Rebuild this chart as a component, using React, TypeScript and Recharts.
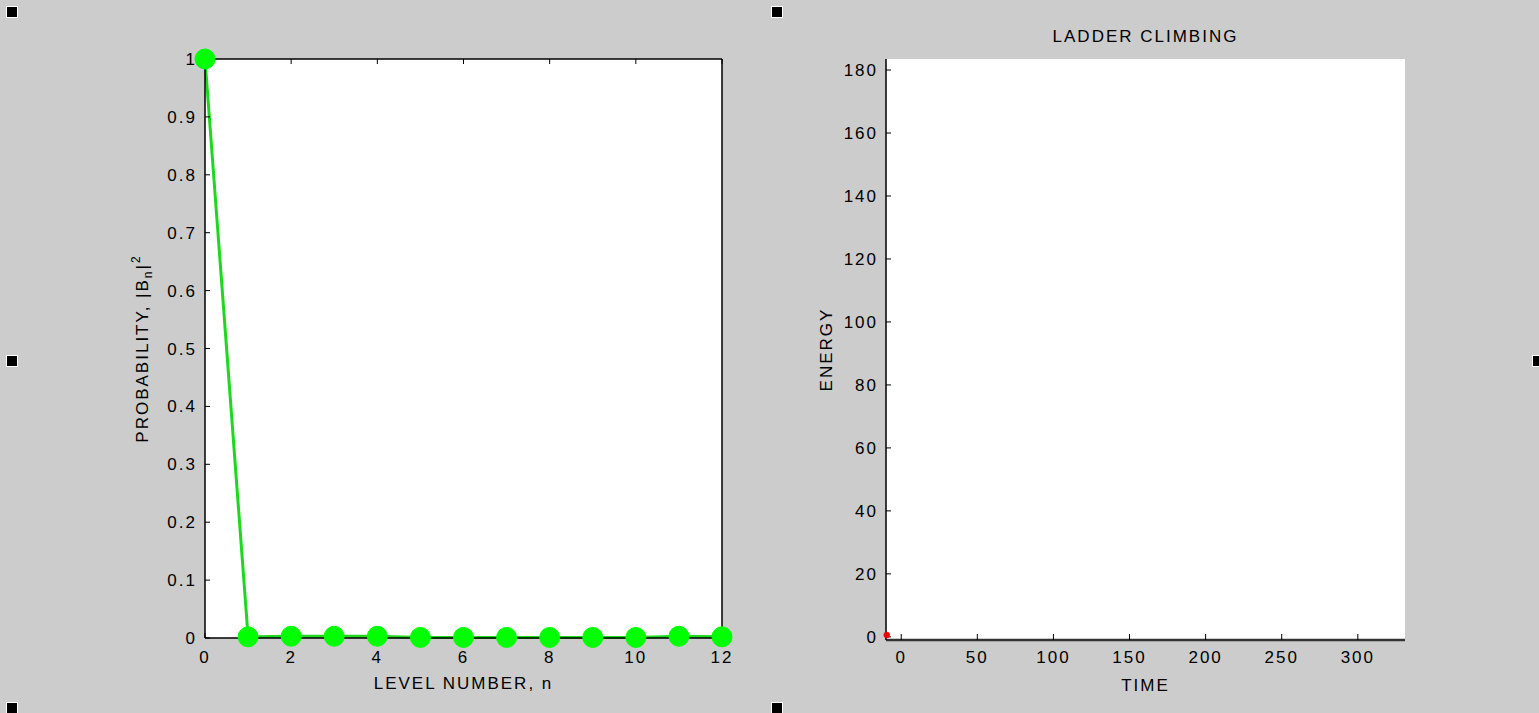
import { LineChart, Line, XAxis, YAxis, CartesianGrid } from 'recharts';

// left panel: occupation probability of each level
const levels = [0, 1, 2, 3, 4, 5, 6, 7, 8, 9, 10, 11, 12];
const probability = [1, 0.002, 0.003, 0.003, 0.003, 0.001, 0.001, 0.001, 0.001, 0.001, 0.001, 0.003, 0.002];
const levelTicks = [0, 2, 4, 6, 8, 10, 12];
const probTicks = [0, 0.1, 0.2, 0.3, 0.4, 0.5, 0.6, 0.7, 0.8, 0.9, 1];

// right panel: energy vs time (only the first sample drawn so far)
const timePoints = [-9.5];
const energyValues = [0.6];
const timeTicks = [0, 50, 100, 150, 200, 250, 300];
const energyTicks = [0, 20, 40, 60, 80, 100, 120, 140, 160, 180];

const levelData = levels.map((n, i) => ({ n, p: probability[i] }));
const energyData = timePoints.map((t, i) => ({ t, e: energyValues[i] }));

const FS = 17;
const tickStyle = { fill: '#000', fontSize: FS };
const noLabel = () => <g />;

const handles = [
  [7, 7], [772, 7], [7, 356], [1533, 356], [7, 703], [772, 703],
];

function ProbLabel(props: any) {
  const vb = props.viewBox || { x: 0, y: 59, width: 205, height: 579 };
  const x = 148;
  const cy = vb.y + vb.height / 2;
  return (
    <text x={x} y={cy} transform={`rotate(-90 ${x} ${cy})`} textAnchor="middle" fontSize={FS} fill="#000">
      PROBABILITY, |B<tspan dy={4} fontSize={12}>n</tspan>
      <tspan dy={-4}>|</tspan>
      <tspan dy={-8} fontSize={12}>2</tspan>
    </text>
  );
}

function makeXTitle(text: string) {
  return (props: any) => {
    const vb = props.viewBox || { x: 0, y: 0, width: 0, height: 0 };
    return (
      <text x={vb.x + vb.width / 2} y={vb.y + 51} textAnchor="middle" fontSize={FS} fill="#000">
        {text}
      </text>
    );
  };
}

function EnergyLabel(props: any) {
  const vb = props.viewBox || { x: 0, y: 59, width: 116, height: 581 };
  const x = 62;
  const cy = vb.y + vb.height / 2;
  return (
    <text x={x} y={cy} transform={`rotate(-90 ${x} ${cy})`} textAnchor="middle" fontSize={FS} fill="#000">
      ENERGY
    </text>
  );
}

export default function App() {
  return (
    <div
      style={{
        position: 'absolute',
        left: 0,
        top: 0,
        width: 1539,
        height: 713,
        background: '#cccccc',
        fontFamily: '"Liberation Sans", Arial, sans-serif',
        letterSpacing: '2px',
        overflow: 'hidden',
      }}
    >
      {handles.map(([x, y], i) => (
        <div
          key={i}
          style={{
            position: 'absolute',
            left: x,
            top: y,
            width: 10,
            height: 10,
            background: '#000',
            outline: '1px solid #fff',
          }}
        />
      ))}

      <div style={{ position: 'absolute', left: 0, top: 0 }}>
        <LineChart width={770} height={713} data={levelData} margin={{ top: 58, right: 47, bottom: 0, left: 0 }}>
          <CartesianGrid xAxisId="bottom" yAxisId="left" fill="#fff" horizontal={false} vertical={false} />
          <XAxis
            xAxisId="bottom"
            dataKey="n"
            type="number"
            domain={[0, 12]}
            ticks={levelTicks}
            interval={0}
            height={75}
            tick={tickStyle}
            tickSize={-5}
            tickMargin={18}
            axisLine={{ stroke: '#000', strokeWidth: 1.5 }}
            tickLine={{ stroke: '#000' }}
            label={{ content: makeXTitle('LEVEL NUMBER, n') }}
          />
          <XAxis
            xAxisId="top"
            orientation="top"
            dataKey="n"
            type="number"
            domain={[0, 12]}
            ticks={levelTicks}
            interval={0}
            height={1}
            tick={noLabel}
            tickSize={-5}
            axisLine={{ stroke: '#000', strokeWidth: 1.5 }}
            tickLine={{ stroke: '#000' }}
          />
          <YAxis
            yAxisId="left"
            type="number"
            domain={[0, 1]}
            ticks={probTicks}
            interval={0}
            width={205}
            tick={tickStyle}
            tickSize={-5}
            tickMargin={13}
            axisLine={{ stroke: '#000', strokeWidth: 1.5 }}
            tickLine={{ stroke: '#000' }}
            label={{ content: ProbLabel }}
          />
          <YAxis
            yAxisId="right"
            orientation="right"
            type="number"
            domain={[0, 1]}
            ticks={probTicks}
            interval={0}
            width={1}
            tick={noLabel}
            tickSize={-5}
            axisLine={{ stroke: '#000', strokeWidth: 1.5 }}
            tickLine={{ stroke: '#000' }}
          />
          <Line
            xAxisId="bottom"
            yAxisId="left"
            dataKey="p"
            stroke="#1ed81e"
            strokeWidth={3}
            dot={{ r: 10, fill: '#00ff00', stroke: '#00ff00', strokeWidth: 1 }}
            activeDot={false}
            isAnimationActive={false}
          />
        </LineChart>
      </div>

      <div
        style={{
          position: 'absolute',
          left: 886,
          width: 519,
          top: 28,
          textAlign: 'center',
          fontSize: FS,
          lineHeight: '18px',
        }}
      >
        LADDER CLIMBING
      </div>

      <div style={{ position: 'absolute', left: 770, top: 0 }}>
        <LineChart width={769} height={713} data={energyData} margin={{ top: 59, right: 134, bottom: 0, left: 0 }}>
          <CartesianGrid xAxisId="t" yAxisId="e" fill="#fff" horizontal={false} vertical={false} />
          <XAxis
            xAxisId="t"
            dataKey="t"
            type="number"
            domain={[-10, 331]}
            ticks={timeTicks}
            interval={0}
            height={73}
            tick={tickStyle}
            tickSize={-6}
            tickMargin={17}
            axisLine={{ stroke: '#333', strokeWidth: 2.5 }}
            tickLine={{ stroke: '#000' }}
            label={{ content: makeXTitle('TIME') }}
          />
          <YAxis
            yAxisId="e"
            type="number"
            domain={[-1, 183.5]}
            ticks={energyTicks}
            interval={0}
            width={116}
            tick={tickStyle}
            tickSize={-5}
            tickMargin={13}
            axisLine={{ stroke: '#000', strokeWidth: 1.5 }}
            tickLine={{ stroke: '#000' }}
            label={{ content: EnergyLabel }}
          />
          <Line
            xAxisId="t"
            yAxisId="e"
            dataKey="e"
            stroke="#e00000"
            strokeWidth={1}
            dot={{ r: 3, fill: '#ee0000', stroke: '#ee0000', strokeWidth: 0.5 }}
            activeDot={false}
            isAnimationActive={false}
          />
        </LineChart>
      </div>
    </div>
  );
}
